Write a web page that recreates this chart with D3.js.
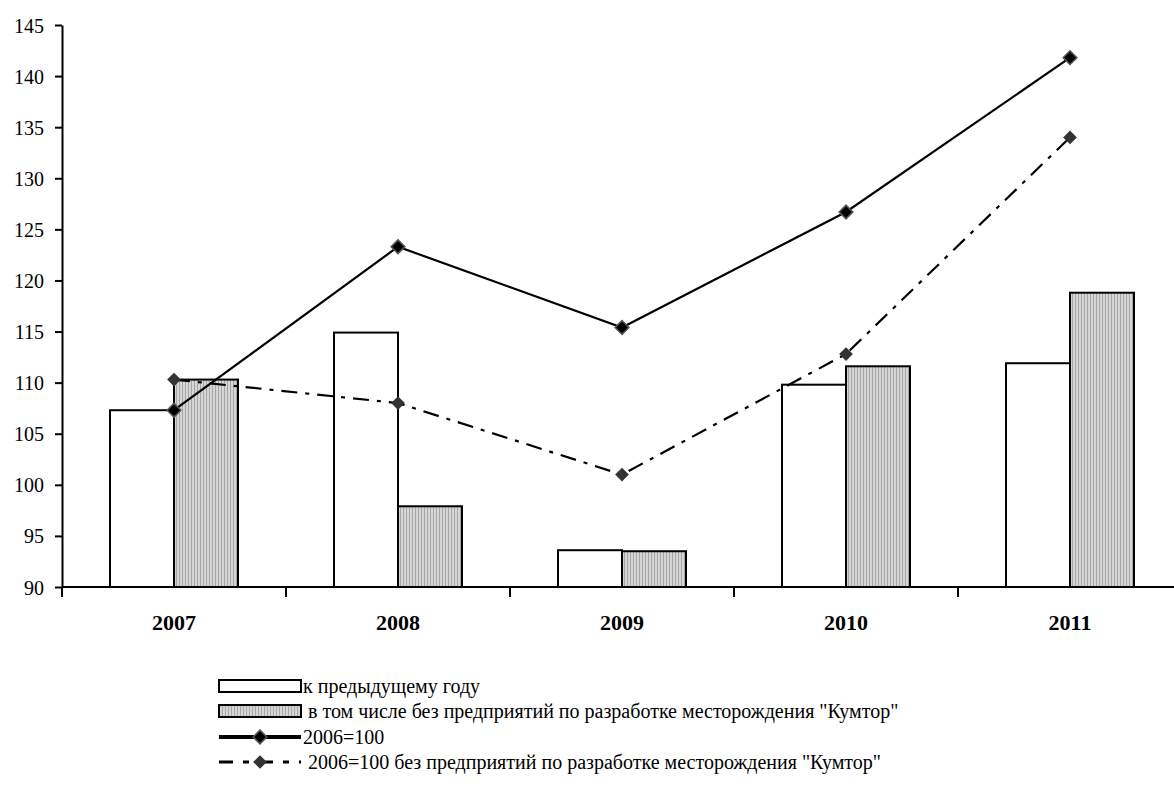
<!DOCTYPE html>
<html>
<head>
<meta charset="utf-8">
<script src="https://cdn.jsdelivr.net/npm/d3@7"></script>
<style>
  body { margin: 0; background: #fff; }
  .domain { stroke: #000; stroke-width: 2; }
  .tick line { stroke: #000; stroke-width: 2; }
</style>
</head>
<body>
<div id="chart"></div>
<script>

// data
var years = ["2007", "2008", "2009", "2010", "2011"];
var prevYear = [107.3, 114.9, 93.6, 109.8, 111.9];
var prevYearExcl = [110.3, 97.9, 93.5, 111.6, 118.8];
var base2006 = [107.3, 123.3, 115.4, 126.7, 141.8];
var base2006Excl = [110.3, 108.0, 101.0, 112.8, 134.0];
var yTicks = [90, 95, 100, 105, 110, 115, 120, 125, 130, 135, 140, 145];
var legendLabels = [
	"к предыдущему году",
	" в том числе без предприятий по разработке месторождения \"Кумтор\"",
	"2006=100",
	" 2006=100 без предприятий по разработке месторождения \"Кумтор\""
];

var width = 1174, height = 785;
// regular serif face only shows up to 20px, and em offsets seem to break it
var font = "Liberation Serif";

var svg = d3.select("#chart").append("svg")
		.attr("width", width)
		.attr("height", height);

// stripes for the grey bars
var pat = svg.append("defs").append("pattern")
		.attr("id", "stripes")
		.attr("patternUnits", "userSpaceOnUse")
		.attr("width", 3)
		.attr("height", 10);
pat.append("rect").attr("width", 3).attr("height", 10).attr("fill", "#d6d6d6");
pat.append("rect").attr("width", 1).attr("height", 10).attr("fill", "#a6a6a6");

var x = d3.scaleBand().domain(years).range([62, 1182]);
var x1 = d3.scaleBand().domain(["prev", "excl"]).range([0, x.bandwidth()]).paddingOuter(0.75);
var y = d3.scaleLinear().domain([90, 145]).range([587, 25]);

var rows = years.map(function(d, i) {
	return {year: d, prev: prevYear[i], excl: prevYearExcl[i]};
});

//bars
var groups = svg.selectAll(".grp")
		.data(rows)
		.enter().append("g")
		.attr("class", "grp")
		.attr("transform", function(d) { return "translate(" + x(d.year) + ",0)"; });

groups.append("rect")
		.attr("x", x1("prev"))
		.attr("width", x1.bandwidth())
		.attr("y", function(d) { return y(d.prev); })
		.attr("height", function(d) { return y(90) - y(d.prev); })
		.attr("fill", "#fff")
		.attr("stroke", "#000")
		.attr("stroke-width", 2);

groups.append("rect")
		.attr("x", x1("excl"))
		.attr("width", x1.bandwidth())
		.attr("y", function(d) { return y(d.excl); })
		.attr("height", function(d) { return y(90) - y(d.excl); })
		.attr("fill", "url(#stripes)")
		.attr("stroke", "#000")
		.attr("stroke-width", 2);

//axes
var yAxis = svg.append("g")
		.attr("transform", "translate(62,0)")
		.call(d3.axisLeft(y).tickValues(yTicks).tickSize(7).tickSizeOuter(0).tickPadding(11));
yAxis.attr("font-family", font);
yAxis.selectAll("text")
		.attr("font-family", font)
		.attr("font-size", 20)
		.attr("fill", "#000")
		.attr("dy", 7);

var xAxis = svg.append("g")
		.attr("transform", "translate(0,587)")
		.call(d3.axisBottom(x).tickSize(0).tickSizeOuter(0).tickPadding(0));
xAxis.attr("font-family", font);
xAxis.select(".domain").attr("d", "M62,0H" + width);
xAxis.selectAll("text")
		.attr("font-family", font)
		.attr("font-size", 22)
		.attr("font-weight", "bold")
		.attr("fill", "#000")
		.attr("y", 43)
		.attr("dy", 0);

// ticks sit between the years
xAxis.selectAll(".sep")
		.data(years)
		.enter().append("line")
		.attr("class", "sep")
		.attr("x1", function(d) { return x(d); })
		.attr("x2", function(d) { return x(d); })
		.attr("y1", 0)
		.attr("y2", 10)
		.attr("stroke", "#000")
		.attr("stroke-width", 2);

//lines
var cx = function(d, i) { return x(years[i]) + x.bandwidth() / 2; };
var line = d3.line().x(cx).y(function(d) { return y(d); });

svg.append("path")
		.datum(base2006Excl)
		.attr("d", line)
		.attr("fill", "none")
		.attr("stroke", "#000")
		.attr("stroke-width", 2.2)
		.attr("stroke-dasharray", "16,8,4,8");

svg.append("path")
		.datum(base2006)
		.attr("d", line)
		.attr("fill", "none")
		.attr("stroke", "#000")
		.attr("stroke-width", 2.2);

var diamond = d3.symbol().type(d3.symbolDiamond2).size(120);

svg.selectAll(".m2")
		.data(base2006Excl)
		.enter().append("path")
		.attr("class", "m2")
		.attr("d", diamond)
		.attr("transform", function(d, i) { return "translate(" + cx(d, i) + "," + y(d) + ")"; })
		.attr("fill", "#333");

svg.selectAll(".m1")
		.data(base2006)
		.enter().append("path")
		.attr("class", "m1")
		.attr("d", diamond)
		.attr("transform", function(d, i) { return "translate(" + cx(d, i) + "," + y(d) + ")"; })
		.attr("fill", "#000")
		.attr("stroke", "#555")
		.attr("stroke-width", 1.5);

//legend
var lx = 219, lw = 82;
var ly = [686, 711, 737, 762];
var legend = svg.append("g");

legend.append("rect")
		.attr("x", lx).attr("y", ly[0] - 6).attr("width", lw).attr("height", 12)
		.attr("fill", "#fff").attr("stroke", "#000").attr("stroke-width", 2);
legend.append("rect")
		.attr("x", lx).attr("y", ly[1] - 6).attr("width", lw).attr("height", 12)
		.attr("fill", "url(#stripes)").attr("stroke", "#000").attr("stroke-width", 2);
legend.append("line")
		.attr("x1", lx).attr("x2", lx + lw).attr("y1", ly[2]).attr("y2", ly[2])
		.attr("stroke", "#000").attr("stroke-width", 4);
legend.append("path")
		.attr("d", diamond)
		.attr("transform", "translate(" + (lx + lw / 2) + "," + ly[2] + ")")
		.attr("fill", "#000").attr("stroke", "#555").attr("stroke-width", 1.5);
legend.append("line")
		.attr("x1", lx).attr("x2", lx + lw).attr("y1", ly[3]).attr("y2", ly[3])
		.attr("stroke", "#000").attr("stroke-width", 3)
		.attr("stroke-dasharray", "14,10,6,10");
legend.append("path")
		.attr("d", diamond)
		.attr("transform", "translate(" + (lx + lw / 2) + "," + ly[3] + ")")
		.attr("fill", "#333");

legend.selectAll("text")
		.data(legendLabels)
		.enter().append("text")
		.attr("x", lx + lw + 2)
		.attr("y", function(d, i) { return ly[i] + 7; })
		.attr("font-family", font)
		.attr("font-size", 20)
		.attr("fill", "#000")
		.attr("xml:space", "preserve")
		.text(function(d) { return d; });

</script>
</body>
</html>
